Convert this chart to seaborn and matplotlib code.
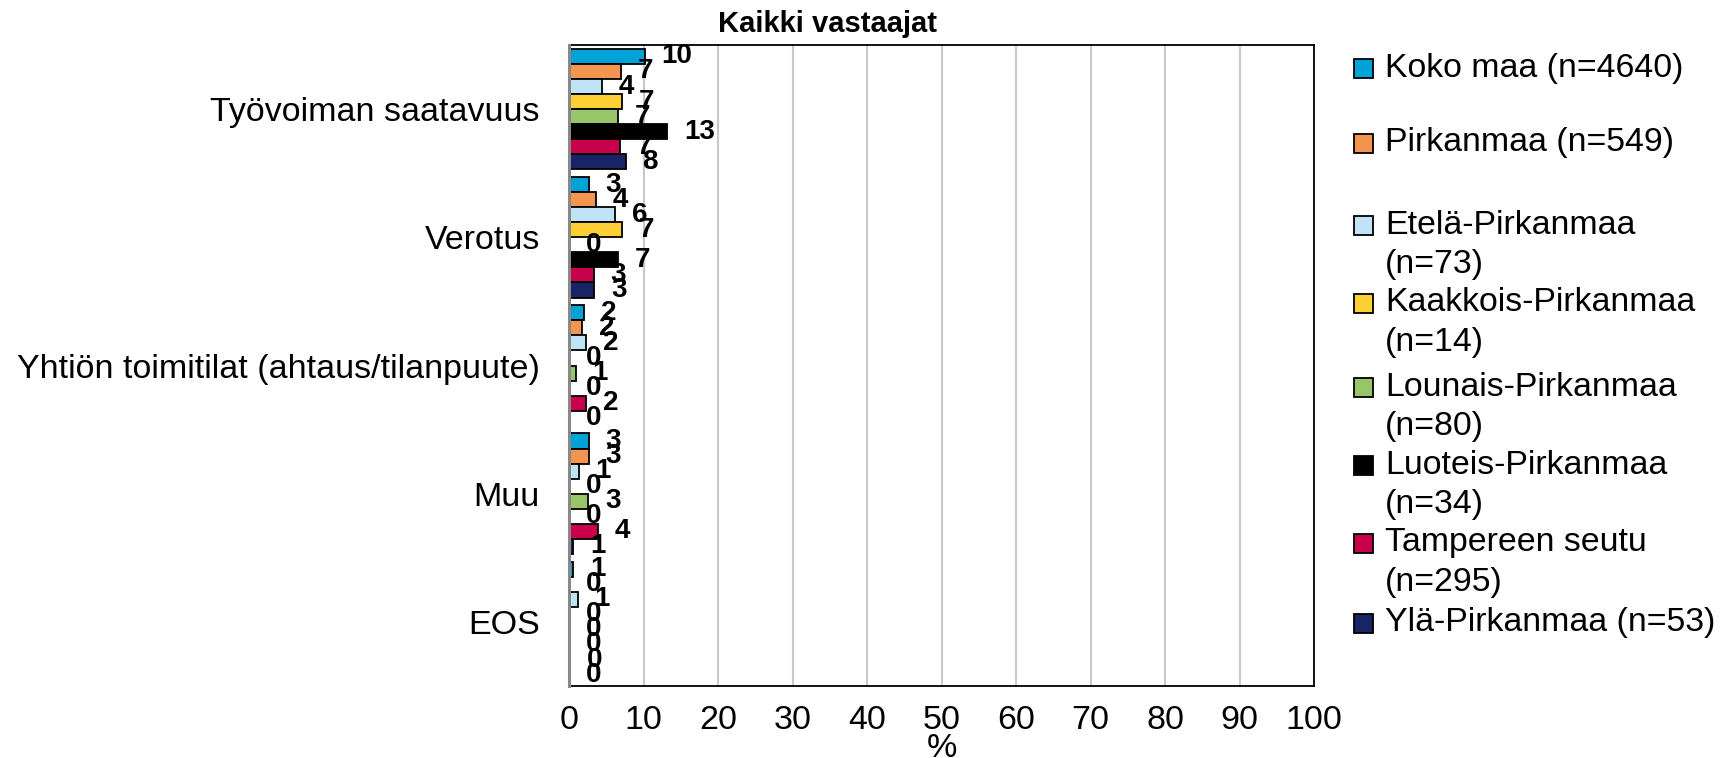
import matplotlib
matplotlib.use("Agg")
import matplotlib.pyplot as plt
import seaborn as sns
import pandas as pd
from matplotlib.patches import Rectangle

categories = ["Työvoiman saatavuus", "Verotus",
              "Yhtiön toimitilat (ahtaus/tilanpuute)", "Muu", "EOS"]
series = ["Koko maa (n=4640)", "Pirkanmaa (n=549)", "Etelä-Pirkanmaa\n(n=73)",
          "Kaakkois-Pirkanmaa\n(n=14)", "Lounais-Pirkanmaa\n(n=80)",
          "Luoteis-Pirkanmaa\n(n=34)", "Tampereen seutu\n(n=295)",
          "Ylä-Pirkanmaa (n=53)"]
koko_maa = [10.2, 2.7, 2.0, 2.7, 0.6]
pirkanmaa = [7.0, 3.6, 1.8, 2.7, 0.0]
etela = [4.4, 6.2, 2.3, 1.3, 1.2]
kaakkois = [7.1, 7.1, 0.0, 0.0, 0.0]
lounais = [6.6, 0.0, 0.9, 2.6, 0.0]
luoteis = [13.2, 6.6, 0.0, 0.0, 0.0]
tampere = [6.8, 3.3, 2.3, 3.9, 0.2]
yla = [7.6, 3.4, 0.0, 0.6, 0.0]
values = [koko_maa, pirkanmaa, etela, kaakkois, lounais, luoteis, tampere, yla]
colors = ["#00A2D8", "#F39550", "#C0E4F6", "#FFD035", "#98C46A",
          "#000000", "#C8004B", "#182466"]
x_ticks = list(range(0, 101, 10))

rows = []
for s, vals in zip(series, values):
    for c, v in zip(categories, vals):
        rows.append({"cat": c, "series": s, "val": v})
df = pd.DataFrame(rows)

sns.set_theme(style="white")
plt.rcParams['font.family'] = ['Liberation Sans', 'DejaVu Sans']
plt.rcParams['text.color'] = 'black'
plt.rcParams['xtick.color'] = 'black'
plt.rcParams['ytick.color'] = 'black'
plt.rcParams['axes.labelcolor'] = 'black'

W, H = 1721, 758
fig = plt.figure(figsize=(W / 100, H / 100), dpi=100)
ax = fig.add_axes([569 / W, 1 - 686 / H, (1314 - 569) / W, (686 - 45) / H])

sns.barplot(data=df, y="cat", x="val", hue="series", order=categories,
            hue_order=series, palette=colors, orient="h", width=0.94,
            gap=0, edgecolor="black", linewidth=1.3, saturation=1,
            legend=False, ax=ax, zorder=3)

for cont, vals in zip(ax.containers, values):
    ax.bar_label(cont, labels=[f"{v:.0f}" for v in vals], padding=12,
                 fontsize=20, fontweight="bold", color="black", zorder=4)

ax.set_xlim(0, 100)
ax.set_xticks(x_ticks)
ax.set_xticklabels([str(t) for t in x_ticks], fontsize=24.5, color="black")
ax.tick_params(axis="x", length=0, pad=14, labelcolor="black")
ax.tick_params(axis="y", length=0, pad=21, labelsize=24.5, labelcolor="black")
ax.set_ylabel("")
ax.set_xlabel("%", fontsize=24.5, color="black")
ax.xaxis.set_label_coords(0.5, -0.074)
ax.grid(axis="x", color="#C8C8C8", linewidth=1.5, zorder=0)
ax.grid(axis="y", visible=False)
ax.set_axisbelow(True)
for side in ["top", "right", "bottom"]:
    ax.spines[side].set_color("black")
    ax.spines[side].set_linewidth(1.3)
ax.spines["left"].set_color("#888888")
ax.spines["left"].set_linewidth(2.2)
ax.spines["left"].set_zorder(5)

fig.text(827 / W, 1 - 24 / H, "Kaikki vastaajat", fontsize=21,
         fontweight="bold", ha="center", va="center", color="black")

legend_y = [68, 143, 225, 303, 387, 465, 543, 623]
for s, col, y0 in zip(series, colors, legend_y):
    fig.patches.append(Rectangle((1354 / W, 1 - (y0 + 9.5) / H), 19 / W, 19 / H,
                                 transform=fig.transFigure, facecolor=col,
                                 edgecolor="black", linewidth=1.3))
    for i, line in enumerate(s.split("\n")):
        fig.text(1385 / W, 1 - (y0 + i * 40) / H, line, fontsize=24.4,
                 ha="left", va="center", color="black")

fig.savefig("out.png", dpi=100)
